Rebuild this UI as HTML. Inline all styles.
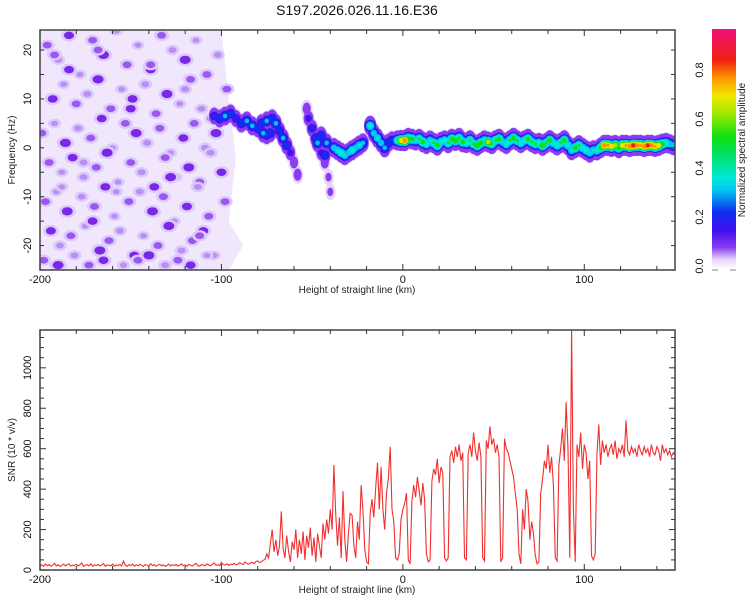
<!DOCTYPE html>
<html><head><meta charset="utf-8"><style>
html,body{margin:0;padding:0;background:#fff;}
svg{display:block;font-family:"Liberation Sans",sans-serif;}
</style></head><body>
<svg id="chart" width="750" height="600" viewBox="0 0 750 600" xmlns="http://www.w3.org/2000/svg">
<defs>
<linearGradient id="cbar" x1="0" y1="1" x2="0" y2="0">
<stop offset="0" stop-color="#ffffff"/>
<stop offset="0.04" stop-color="#e6d4fb"/>
<stop offset="0.09" stop-color="#8a3cf0"/>
<stop offset="0.16" stop-color="#4010f0"/>
<stop offset="0.24" stop-color="#1030f0"/>
<stop offset="0.33" stop-color="#00c8f0"/>
<stop offset="0.38" stop-color="#00e8d8"/>
<stop offset="0.48" stop-color="#00e060"/>
<stop offset="0.55" stop-color="#10e010"/>
<stop offset="0.66" stop-color="#b0e800"/>
<stop offset="0.72" stop-color="#f0e800"/>
<stop offset="0.8" stop-color="#ff9000"/>
<stop offset="0.87" stop-color="#f02010"/>
<stop offset="1" stop-color="#f0107a"/>
</linearGradient>
<clipPath id="clipTop"><rect x="40" y="30" width="635" height="240"/></clipPath>
<clipPath id="clipBot"><rect x="40" y="330" width="635" height="240"/></clipPath>
</defs>
<text x="357" y="15" font-size="14" text-anchor="middle" fill="#111">S197.2026.026.11.16.E36</text>
<g id="top"></g>
<g id="bot"></g>
<g id="cb"></g>
</svg>
<script>
// ---------- data ----------
const xDomain = [-200, 150];
const freqDomain = [-25, 24.1];
const snrDomain = [0, 1187];
const xTickLabels = [-200, -100, 0, 100];
const freqTickLabels = [-20, -10, 0, 10, 20];
const snrTickLabels = [0, 200, 400, 600, 800, 1000];
const cbTickLabels = [0.0, 0.2, 0.4, 0.6, 0.8];

const snrStartKm = -200;
const snrValues = [
22,25,18,30,21,27,19,24,33,20,
26,18,23,29,21,25,31,19,24,22,
28,20,26,35,18,23,27,21,30,19,
25,22,28,20,24,32,18,26,23,21,
29,19,25,22,27,20,44,24,18,26,
22,30,19,25,21,28,23,18,27,24,
20,31,22,26,19,24,28,21,25,18,
23,29,20,26,22,27,19,24,30,21,
25,18,28,23,20,26,33,22,19,27,
24,21,30,25,20,28,35,23,26,22,
38,27,24,31,22,29,26,33,25,28,
36,30,27,40,32,29,35,38,31,42,
45,37,40,48,52,
80,60,130,200,90,150,70,120,290,110,
60,170,90,40,140,100,200,60,150,80,
190,50,170,110,210,70,160,40,180,120,
60,230,150,250,180,
300,200,520,280,120,260,60,390,150,40,
180,280,270,120,60,240,150,420,300,100,
40,30,280,350,260,400,530,300,510,300,
200,380,450,610,300,240,60,50,80,250,
300,330,380,50,30,340,420,360,460,390,
320,430,350,80,40,50,440,500,470,550,
430,510,480,60,45,60,560,590,530,610,
560,620,540,580,60,50,580,620,560,680,
590,540,630,560,60,45,640,600,710,620,
650,580,620,560,40,60,650,600,580,540,
500,460,380,300,80,30,300,200,400,340,
150,240,180,70,30,40,380,450,540,500,
620,480,560,420,60,45,520,600,700,540,
830,600,60,1190,300,40,620,560,680,500,
620,580,450,540,70,50,80,580,720,520,
640,580,620,560,600,620,570,640,550,600,
580,620,560,740,590,570,610,580,600,560,
620,590,570,610,580,600,560,620,580,570,
610,590,540,620,580,600,570,590,560,580,570
];

const noiseKm = [
-196,-190,-184,-178,-171,-165,-158,-152,-146,-139,
-133,-127,-120,-114,-108,-102,-97,-193,-187,-180,
-174,-168,-161,-155,-149,-142,-136,-130,-123,-117,
-111,-105,-199,-192,-186,-179,-172,-166,-160,-153,
-147,-141,-134,-128,-121,-115,-109,-103,-195,-188,
-182,-176,-169,-163,-157,-150,-144,-137,-131,-125,
-118,-112,-106,-100,-197,-191,-185,-177,-170,-164,
-159,-151,-145,-138,-132,-126,-119,-113,-107,-98,
-194,-189,-183,-175,-167,-162,-156,-148,-143,-135,
-129,-122,-116,-110,-104,-198,-190,-181,-173,-165,
-154,-146,-140,-131,-124,-117,-108,-101,-192,-184,
-176,-168,-158,-150,-139,-128,-120,-112,-188,-171];
const noiseHz = [
21,18,23,15,22,19,24,17,21,16,
23,20,18,22,15,19,12,10,13,9,
11,14,8,12,10,13,7,11,9,14,
8,6,3,5,1,4,2,6,0,5,
3,1,4,-1,2,5,0,3,-3,-5,
-2,-6,-4,-1,-7,-3,-5,-8,-2,-6,
-4,-7,-1,-5,-11,-9,-13,-10,-12,-8,
-14,-11,-9,-13,-10,-15,-12,-8,-14,-11,
-17,-20,-18,-16,-21,-19,-17,-22,-18,-20,
-16,-21,-19,-17,-22,-23,-24,-22,-24,-23,
-24,-23,-22,-24,-23,-24,-22,7,19,16,
-3,20,-9,8,17,-6,12,-18,-8,-15];
const noiseAmp = [
0.10,0.08,0.12,0.06,0.10,0.14,0.08,0.10,0.06,0.12,
0.10,0.08,0.14,0.06,0.10,0.08,0.10,0.12,0.06,0.10,
0.08,0.14,0.10,0.06,0.12,0.08,0.10,0.14,0.06,0.10,
0.08,0.12,0.10,0.06,0.14,0.08,0.10,0.12,0.06,0.10,
0.14,0.08,0.10,0.06,0.12,0.10,0.08,0.14,0.10,0.06,
0.12,0.08,0.10,0.14,0.06,0.10,0.08,0.12,0.10,0.06,
0.14,0.10,0.08,0.12,0.10,0.06,0.14,0.08,0.10,0.12,
0.06,0.10,0.08,0.14,0.10,0.06,0.12,0.08,0.10,0.10,
0.12,0.08,0.10,0.06,0.14,0.10,0.08,0.12,0.06,0.10,
0.14,0.08,0.10,0.12,0.06,0.10,0.14,0.08,0.10,0.12,
0.06,0.10,0.14,0.08,0.10,0.12,0.06,0.08,0.10,0.12,
0.08,0.10,0.06,0.12,0.10,0.14,0.08,0.10,0.06,0.12];

const ridgeKm = [-104,-101,-98,-95,-92,-89,-86,-83,-80,-77,-75,
-72,-70,-68,-66,-64,-62,-60,-58,-78,-75,-73,
-53,-52,-50,-48,-47,-45,-43,-41,-40,-45,-42,-43,
-38,-36,-34,-32,-30,-28,-26,-24,-22,
-18,-16,-14,-12,-10,-8,-6,
-3,-1,1,3,5,7,9,11,13,15,17,19,21,23,25,27,29,31,33,35,37,39,41,43,45,47,49,51,53,55,57,59,61,63,65,67,69,71,73,75,77,79,81,83,85,87,89,91,93,95,97,99,101,103,105,107,109,111,113,115,117,119,121,123,125,127,129,131,133,135,137,139,141,143,145,147,149];
const ridgeHz = [6.5,6,6.5,7,6,5,5.5,4.5,4,3,2.5,
6,5,3.5,2,0.5,-1,-3,-5.5,5,5.5,3,
8,6,4,2,1,-1,-3,-6,-9,2.5,1,-1.5,
0,-0.5,-1,-1.5,-1,-0.5,0,0.5,1,
4.5,3,2,1,0,1,1.5,
1.5,1.5,1.5,2,1.8,1.5,1.8,1.2,0.8,1.5,1,0.5,1.2,1.5,1,1.8,1.5,2,1.2,1,1.5,0.8,0.5,1,1.5,1.2,0.8,1.5,1.8,1.2,0.8,1.5,2,1.5,1,1.5,1.8,1.2,0.8,1,0.5,1,1.5,1,0.5,1,1.5,0.5,-0.5,0,0.5,0,-0.5,-1,-0.5,-0.5,0,0.5,0.5,0.3,0.5,0,0.5,0.5,0.3,0.5,0.5,0.5,0.3,0.5,0.5,0.3,0.5,0.8,1,0.8,0.5];
const ridgeAmp = [0.25,0.3,0.35,0.3,0.25,0.3,0.35,0.35,0.3,0.35,0.25,
0.3,0.35,0.3,0.35,0.3,0.2,0.15,0.15,0.3,0.35,0.3,
0.15,0.2,0.25,0.3,0.35,0.2,0.15,0.12,0.12,0.3,0.35,0.3,
0.4,0.45,0.5,0.45,0.4,0.5,0.4,0.45,0.35,
0.5,0.4,0.45,0.4,0.35,0.3,0.3,
0.5,0.75,0.85,0.55,0.6,0.45,0.55,0.6,0.5,0.45,0.55,0.6,0.5,0.5,0.55,0.6,0.65,0.55,0.6,0.5,0.55,0.55,0.65,0.6,0.5,0.7,0.55,0.55,0.6,0.45,0.5,0.55,0.6,0.55,0.5,0.5,0.6,0.55,0.55,0.5,0.65,0.55,0.6,0.5,0.5,0.55,0.6,0.5,0.45,0.6,0.55,0.5,0.5,0.45,0.45,0.5,0.6,0.85,0.8,0.75,0.7,0.6,0.75,0.8,0.85,0.9,0.85,0.8,0.85,0.9,0.85,0.8,0.75,0.6,0.5,0.4,0.4];

// ---------- helpers ----------
const NS = "http://www.w3.org/2000/svg";
const PL = 40, PR = 675;
const TT = 30, TB = 270, BT = 330, BB = 570;
function xs(v){ return PL + (v - xDomain[0]) / (xDomain[1] - xDomain[0]) * (PR - PL); }
function yf(v){ return TB - (v - freqDomain[0]) / (freqDomain[1] - freqDomain[0]) * (TB - TT); }
function ys(v){ return BB - (v - snrDomain[0]) / (snrDomain[1] - snrDomain[0]) * (BB - BT); }
function mk(tag, attrs, parent){ const e = document.createElementNS(NS, tag); for (const k in attrs) e.setAttribute(k, attrs[k]); parent.appendChild(e); return e; }
const stops = [[0,'#ffffff'],[0.04,'#e6d4fb'],[0.09,'#8a3cf0'],[0.16,'#4010f0'],[0.24,'#1030f0'],[0.33,'#00c8f0'],[0.38,'#00e8d8'],[0.48,'#00e060'],[0.55,'#10e010'],[0.66,'#b0e800'],[0.72,'#f0e800'],[0.8,'#ff9000'],[0.87,'#f02010'],[1,'#f0107a']];
function cmap(v){ let c = stops[0][1]; for (const s of stops) if (v >= s[0]) c = s[1]; return c; }

const gTop = document.getElementById('top');
const gBot = document.getElementById('bot');
const gCb = document.getElementById('cb');

// ---------- spectrogram ----------
const heat = mk('g', {'clip-path':'url(#clipTop)'}, gTop);


const base = mk('path', {d:`M${xs(-200)},${TT} L${xs(-100)},${TT} L${xs(-96)},${yf(10)} L${xs(-92)},${yf(-2)} L${xs(-96)},${yf(-15)} L${xs(-88)},${yf(-20)} L${xs(-96)},${TB} L${xs(-200)},${TB} Z`, fill:'#f0e7fd'}, heat);


for (let i = 0; i < noiseKm.length; i++) {
  const cx = xs(noiseKm[i]), cy = yf(noiseHz[i]), a = noiseAmp[i];
  const r = 2 + a * 25;
  const b1 = mk('ellipse', {cx:cx, cy:cy, rx:r+3, ry:r*0.8+2, fill:'#dcc8fa'}, heat);
  
  
  const b = mk('ellipse', {cx:cx, cy:cy, rx:r, ry:r*0.75, fill: a >= 0.12 ? '#7a28e8' : (a >= 0.09 ? '#9a58f0' : '#b890f4')}, heat);
  
  
}
const levels = [0.05,0.1,0.16,0.24,0.33,0.45,0.55,0.66,0.72,0.8,0.87];
for (const L of levels) {
  for (let i = 0; i < ridgeKm.length; i++) {
    const a = ridgeAmp[i];
    if (a < L) continue;
    const s = Math.pow(1 - L / a, 0.7);
    const e = mk('ellipse', {cx: xs(ridgeKm[i]), cy: yf(ridgeHz[i]), rx: 1.5 + 5.5 * s, ry: 1.5 + (L < 0.12 ? 10 : 6) * s, fill: cmap(L)}, heat);
    
    
  }
}

// ---------- snr line ----------
let d = '';
for (let i = 0; i < snrValues.length; i++) d += (i ? 'L' : 'M') + xs(snrStartKm + i).toFixed(1) + ',' + ys(snrValues[i]).toFixed(1);
const line = mk('path', {d: d, fill:'none', stroke:'#f03030', 'stroke-width':1.1, 'clip-path':'url(#clipBot)'}, gBot);



// ---------- axes ----------
function frame(g, t, b, name){
  const r = mk('rect', {x:PL, y:t, width:PR-PL, height:b-t, fill:'none', stroke:'#444', 'stroke-width':1.5}, g);
  
  
  for (let v = -200; v <= 150; v += 20) {
    const X = xs(v), len = (v % 100 === 0) ? 6 : 4;
    mk('line', {x1:X, y1:b, x2:X, y2:b-len, stroke:'#333'}, g);
    mk('line', {x1:X, y1:t, x2:X, y2:t+len, stroke:'#333'}, g);
  }
  for (const v of xTickLabels) {
    const tx = mk('text', {x: xs(v), y: b + 13, 'font-size':11, 'text-anchor':'middle', fill:'#111'}, g);
    
    
    tx.textContent = v;
  }
  const xt = mk('text', {x: 357, y: b + 23, 'font-size':10, 'text-anchor':'middle', fill:'#222'}, g);
  
  
  xt.textContent = 'Height of straight line (km)';
}
frame(gTop, TT, TB, 'spectrogram-frame');
frame(gBot, BT, BB, 'snr-frame');

for (let v = -25; v <= 24; v += 5) { const Y = yf(v); mk('line', {x1:PL, y1:Y, x2:PL+4, y2:Y, stroke:'#333'}, gTop); mk('line', {x1:PR, y1:Y, x2:PR-4, y2:Y, stroke:'#333'}, gTop); }
for (const v of freqTickLabels) {
  const Y = yf(v);
  const t = mk('text', {x: 31, y: Y, 'font-size':11, 'text-anchor':'middle', fill:'#111', transform:`rotate(-90 31 ${Y})`}, gTop);
  
  
  t.textContent = v;
}
const yt1 = mk('text', {x: 15, y: 150, 'font-size':10, 'text-anchor':'middle', fill:'#222', transform:'rotate(-90 15 150)'}, gTop);


yt1.textContent = 'Frequency (Hz)';

for (let v = 0; v <= 1150; v += 50) { const Y = ys(v), len = v % 200 === 0 ? 6 : 4; mk('line', {x1:PL, y1:Y, x2:PL+len, y2:Y, stroke:'#333'}, gBot); mk('line', {x1:PR, y1:Y, x2:PR-len, y2:Y, stroke:'#333'}, gBot); }
for (const v of snrTickLabels) {
  const Y = ys(v);
  const t = mk('text', {x: 31, y: Y, 'font-size':11, 'text-anchor':'middle', fill:'#111', transform:`rotate(-90 31 ${Y})`}, gBot);
  
  
  t.textContent = v;
}
const yt2 = mk('text', {x: 15, y: 450, 'font-size':10, 'text-anchor':'middle', fill:'#222', transform:'rotate(-90 15 450)'}, gBot);


yt2.textContent = 'SNR (10 * v/v)';

// ---------- colorbar ----------
const CB0 = 266, CBperUnit = (266 - 70) / 0.8;
const cbr = mk('rect', {x:712, y:29, width:24, height:240, fill:'url(#cbar)'}, gCb);


for (const v of cbTickLabels) {
  const Y = CB0 - v * CBperUnit;
  const t = mk('text', {x: 703, y: Y, 'font-size':11, 'text-anchor':'middle', fill:'#111', transform:`rotate(-90 703 ${Y})`}, gCb);
  
  
  t.textContent = v.toFixed(1);
}
mk('line', {x1:712, y1:270, x2:718, y2:270, stroke:'#888'}, gCb);
mk('line', {x1:730, y1:270, x2:736, y2:270, stroke:'#888'}, gCb);
const cbt = mk('text', {x: 745, y: 150, 'font-size':10, 'text-anchor':'middle', fill:'#222', transform:'rotate(-90 745 150)'}, gCb);


cbt.textContent = 'Normalized spectral amplitude';
</script>
</body></html>
